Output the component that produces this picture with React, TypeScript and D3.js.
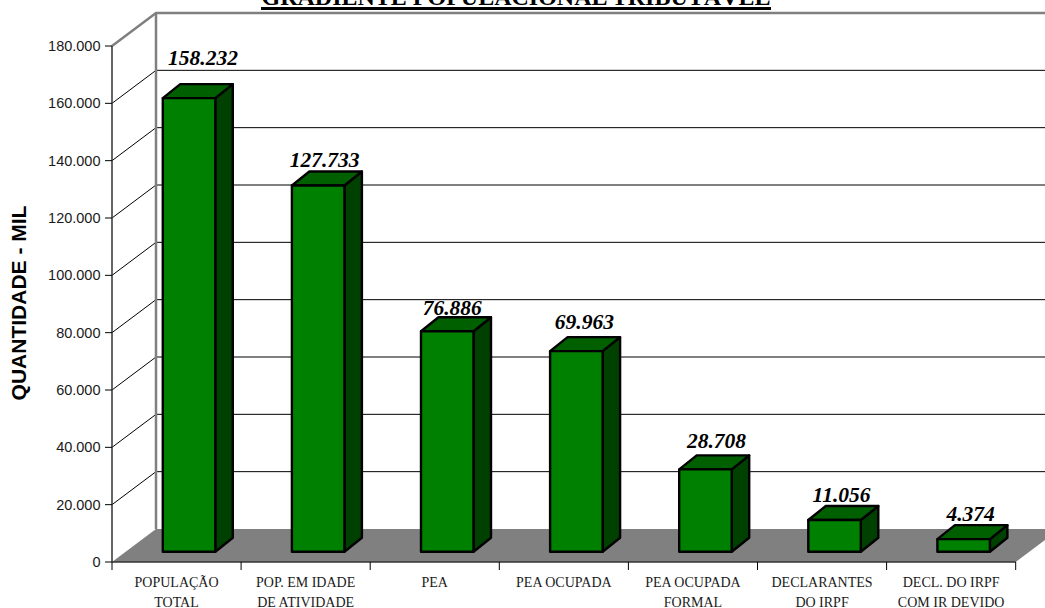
import React from "react";
import * as d3 from "d3";

const categories = [
  ["POPULAÇÃO", "TOTAL"],
  ["POP. EM IDADE", "DE ATIVIDADE"],
  ["PEA"],
  ["PEA OCUPADA"],
  ["PEA OCUPADA", "FORMAL"],
  ["DECLARANTES", "DO IRPF"],
  ["DECL. DO IRPF", "COM IR DEVIDO"],
];
const values = [158232, 127733, 76886, 69963, 28708, 11056, 4374];
const valueLabels = ["158.232", "127.733", "76.886", "69.963", "28.708", "11.056", "4.374"];
const ticks = [0, 20000, 40000, 60000, 80000, 100000, 120000, 140000, 160000, 180000];
const title = "GRADIENTE POPULACIONAL TRIBUTÁVEL";
const yTitle = "QUANTIDADE - MIL";

const W = 1045, H = 608;
const x0 = 112, x1 = 1015.7, dx = 44, dy = 33;
const y = d3.scaleLinear().domain([0, 180000]).range([562, 46]);
const x = d3.scaleBand<number>().domain(d3.range(7)).range([x0, x1]);
const fmt = (v: number) => (v === 0 ? "0" : d3.format(",")(v).replace(/,/g, "."));
const GREY = "#808080";
const SERIF = "'Liberation Serif', 'Times New Roman', serif";
const SANS = "'Liberation Sans', Arial, sans-serif";
const barW = 52.5, shiftX = 12.5, shiftY = 10.3, bx = 17.5, by = 14;
const labelNudgeX = [14, 6.5, 5, 8, 11, 7, 7];
const labelNudgeY = [19, 5, 2, 8, 7, 4, 4];
const poly = (p: number[][]) => d3.line()(p as [number, number][]) + "Z";

export default function App() {
  return (
    <svg width={W} height={H} style={{ position: "absolute", left: 0, top: 0, background: "#fff" }}>
      <path d={poly([[x0, y(0)], [x1, y(0)], [x1 + dx, y(0) - dy], [x0 + dx, y(0) - dy]])} fill={GREY} />
      {ticks.slice(1, -1).map((t) => (
        <g key={t} stroke="#000" strokeWidth={1}>
          <line x1={x0} y1={y(t)} x2={x0 + dx} y2={y(t) - dy} />
          <line x1={x0 + dx} y1={y(t) - dy} x2={W} y2={y(t) - dy} />
        </g>
      ))}
      <path d={`M${x0},${y(180000)}L${x0 + dx},${y(180000) - dy}H${W}`} fill="none" stroke={GREY} strokeWidth={2.5} />
      <line x1={x0 + dx} y1={y(180000) - dy} x2={x0 + dx} y2={y(0) - dy} stroke={GREY} strokeWidth={2.5} />
      <line x1={x0} y1={y(180000)} x2={x0} y2={y(0)} stroke="#333" strokeWidth={1.5} />
      <line x1={x0} y1={y(0)} x2={x1} y2={y(0)} stroke="#333" strokeWidth={1.5} />
      {ticks.map((t) => (
        <g key={t}>
          <line x1={x0 - 7} x2={x0} y1={y(t)} y2={y(t)} stroke="#000" />
          <text x={x0 - 11.5} y={y(t) + 5} textAnchor="end" fontFamily={SANS} fontSize={14.5} fill="#1a1a1a">{fmt(t)}</text>
        </g>
      ))}
      {d3.range(8).map((i) => {
        const tx = x0 + i * x.bandwidth();
        return <line key={i} x1={tx} x2={tx} y1={y(0)} y2={y(0) + 8} stroke="#000" />;
      })}
      {categories.map((c, i) =>
        c.map((s, j) => (
          <text key={j} x={x(i)! + x.bandwidth() / 2} y={587 + j * 19.5} textAnchor="middle" fontFamily={SERIF} fontSize={14} fill="#1a1a1a">{s}</text>
        ))
      )}
      {values.map((v, i) => {
        const l = x(i)! + x.bandwidth() / 2 + shiftX - barW / 2;
        const r = l + barW;
        const b = y(0) - shiftY;
        const t = y(v) - shiftY;
        return (
          <g key={i} stroke="#000" strokeWidth={2.4} strokeLinejoin="round">
            <path d={poly([[r, b], [r + bx, b - by], [r + bx, t - by], [r, t]])} fill="#004000" />
            <path d={poly([[l, t], [r, t], [r + bx, t - by], [l + bx, t - by]])} fill="#006000" />
            <rect x={l} y={t} width={barW} height={b - t} fill="#008000" />
          </g>
        );
      })}
      {values.map((v, i) => (
        <text key={i} x={x(i)! + x.bandwidth() / 2 + shiftX + labelNudgeX[i]} y={y(v) - shiftY - by - labelNudgeY[i]} textAnchor="middle" fontFamily={SERIF} fontSize={21.5} fontWeight="bold" fontStyle="italic" fill="#000">{valueLabels[i]}</text>
      ))}
      <text x={516} y={5} textAnchor="middle" fontFamily={SERIF} fontSize={24} fontWeight="bold" fill="#000">{title}</text>
      <line x1={261} x2={771} y1={8.5} y2={8.5} stroke="#000" strokeWidth={3} />
      <text transform="translate(26,303) rotate(-90)" textAnchor="middle" fontFamily={SANS} fontSize={21} fontWeight="bold" fill="#000">{yTitle}</text>
    </svg>
  );
}
